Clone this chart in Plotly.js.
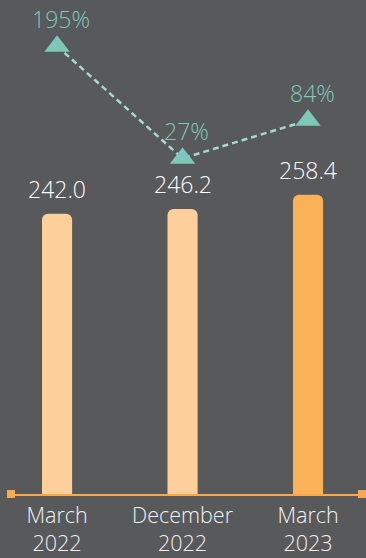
<!DOCTYPE html>
<html><head><meta charset="utf-8">
<script src="https://cdn.plot.ly/plotly-3.0.1.min.js"></script>
<style>html,body{margin:0;padding:0;background:#58595b;}#chart{width:366px;height:558px;}</style>
</head><body><div id="chart"></div>
<script>
const categories = ["March<br>2022", "December<br>2022", "March<br>2023"];
const barValues = [242.0, 246.2, 258.4];
const barLabels = ["242.0", "246.2", "258.4"];
const growthValues = [195, 27, 84];
const growthLabels = ["195%", "27%", "84%"];
const barColors = ["#fdd09b", "#fdd09b", "#fbb157"];

const FONT = "'Open Sans', 'Liberation Sans', sans-serif";

const bars = {
  type: "bar", x: categories, y: barValues, width: 0.24,
  marker: {color: barColors, cornerradius: 6, line: {width: 0}},
  hoverinfo: "skip", yaxis: "y"
};
const line = {
  type: "scatter", mode: "lines+markers", x: categories, y: growthValues, yaxis: "y2",
  line: {color: "#a6dacb", width: 2.5, dash: "6px,4px"},
  marker: {symbol: "triangle-up", size: 22, color: "#7fc7b8"},
  hoverinfo: "skip", cliponaxis: false
};

const annotations = [];
categories.forEach((c, i) => {
  annotations.push({x: c, y: barValues[i], xref: "x", yref: "y", text: barLabels[i],
    showarrow: false, yanchor: "bottom", yshift: 7,
    font: {family: FONT, size: 23, color: "#ffffff", weight: 300}});
  annotations.push({x: c, y: growthValues[i], xref: "x", yref: "y2", text: growthLabels[i],
    showarrow: false, yanchor: "middle", yshift: 27, xshift: 4,
    font: {family: FONT, size: 23, color: "#7fc7b8", weight: 300}});
});

const sq = (xa) => ({type: "rect", xref: "paper", yref: "paper", xsizemode: "pixel", ysizemode: "pixel",
  xanchor: xa, yanchor: 0, x0: -4, x1: 4, y0: -4, y1: 4, fillcolor: "#f7a94b", line: {width: 0}, layer: "above"});

const layout = {
  width: 366, height: 558,
  margin: {l: 11, r: 4, t: 0, b: 64},
  paper_bgcolor: "#58595b", plot_bgcolor: "#58595b",
  showlegend: false,
  xaxis: {type: "category", range: [-0.367, 2.43], showgrid: false, zeroline: false,
    showline: true, linecolor: "#f7a94b", linewidth: 2, ticks: "", ticklabelstandoff: 1,
    tickfont: {family: FONT, size: 21.5, color: "#f2f2f2", weight: 300}, fixedrange: true},
  yaxis: {range: [0, 426.6], visible: false, showgrid: false, zeroline: false, fixedrange: true},
  yaxis2: {range: [-475.7, 264.2], overlaying: "y", visible: false, showgrid: false, zeroline: false, fixedrange: true},
  annotations: annotations,
  shapes: [sq(0), sq(1)]
};

Plotly.newPlot("chart", [bars, line], layout, {displayModeBar: false, staticPlot: true});
</script>
</body></html>
